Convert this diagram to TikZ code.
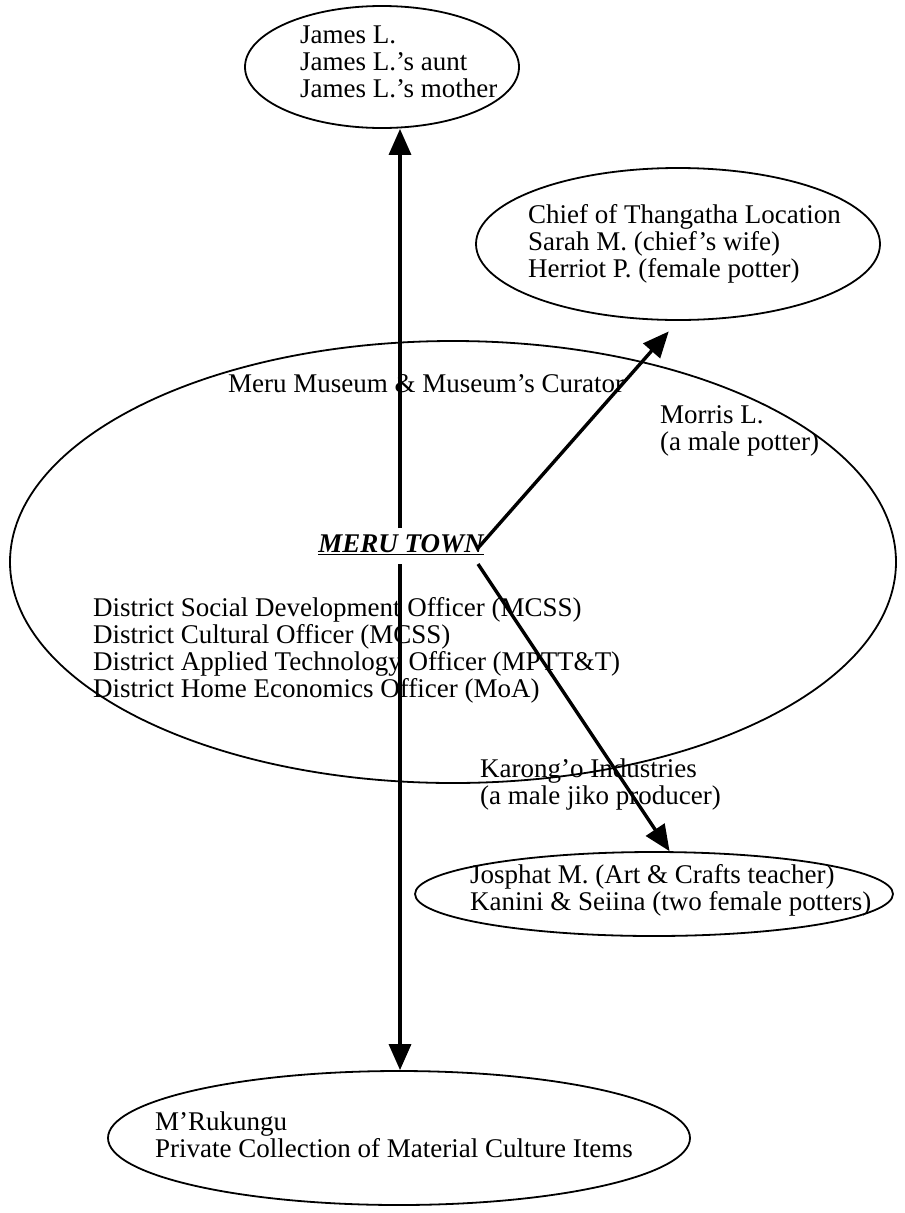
\documentclass[tikz,border=0pt]{standalone}
\usepackage{fontspec}
\setmainfont{Liberation Serif}
\usetikzlibrary{shapes.geometric,arrows.meta}
\tikzset{blob/.style={draw, ellipse, line width=1.8pt, inner sep=0pt},
  txt/.style={align=left, anchor=west, inner sep=0pt, font=\fontsize{27}{27}\selectfont},
  townlabel/.style={inner sep=2pt, font=\fontsize{27}{27}\selectfont\bfseries\itshape},
  arr/.style={line width=3.4pt, -{Triangle[length=26pt,width=22pt]}}}

\begin{document}
\begin{tikzpicture}[x=1pt,y=-1pt]
   \useasboundingbox (0,0) rectangle (905,1213);
   % the places
   \node[blob, minimum width=274, minimum height=122] (james) at (382,67) {};
   \node[blob, minimum width=404, minimum height=152] (chief) at (678,244) {};
   \node[blob, minimum width=886, minimum height=442] (meru) at (453,562) {};
   \node[blob, minimum width=478, minimum height=84] (josphat) at (654,894) {};
   \node[blob, minimum width=582, minimum height=134] (mruk) at (399,1138) {};
   % the people
   \node[txt] (jamestxt) at (300,62) {James L.\\James L.’s aunt\\James L.’s mother};
   \node[txt] (chieftxt) at (528,244) {Chief of Thangatha Location\\Sarah M. (chief’s wife)\\Herriot P. (female potter)};
   \node[txt] (museum) at (228,384) {Meru Museum \& Museum’s Curator};
   \node[txt] (morris) at (660,431) {Morris L.\\(a male potter)};
   \node[townlabel] (town) at (401,545) {\underline{MERU TOWN}};
   \node[txt] (district) at (93,650) {District Social Development Officer (MCSS)\\District Cultural Officer (MCSS)\\District Applied Technology Officer (MPTT\&T)\\District Home Economics Officer (MoA)};
   \node[txt] (karongo) at (480,784) {Karong’o Industries\\(a male jiko producer)};
   \node[txt] (josphattxt) at (470,890) {Josphat M. (Art \& Crafts teacher)\\Kanini \& Seiina (two female potters)};
   \node[txt] (mruktxt) at (155,1135) {M’Rukungu\\Private Collection of Material Culture Items};
   % the links
   \coordinate (up) at (400,528);
   \coordinate (down) at (400,564);
   \coordinate (ne) at (478,548);
   \coordinate (se) at (478,564);
   \draw[arr] (up) -- (up |- james.south);
   \draw[arr] (down) -- (down |- mruk.north);
   \draw[arr, shorten >=14pt] (ne) -- (chief.south);
   \draw[arr] (se) -- (josphat.70);
\end{tikzpicture}
\end{document}
